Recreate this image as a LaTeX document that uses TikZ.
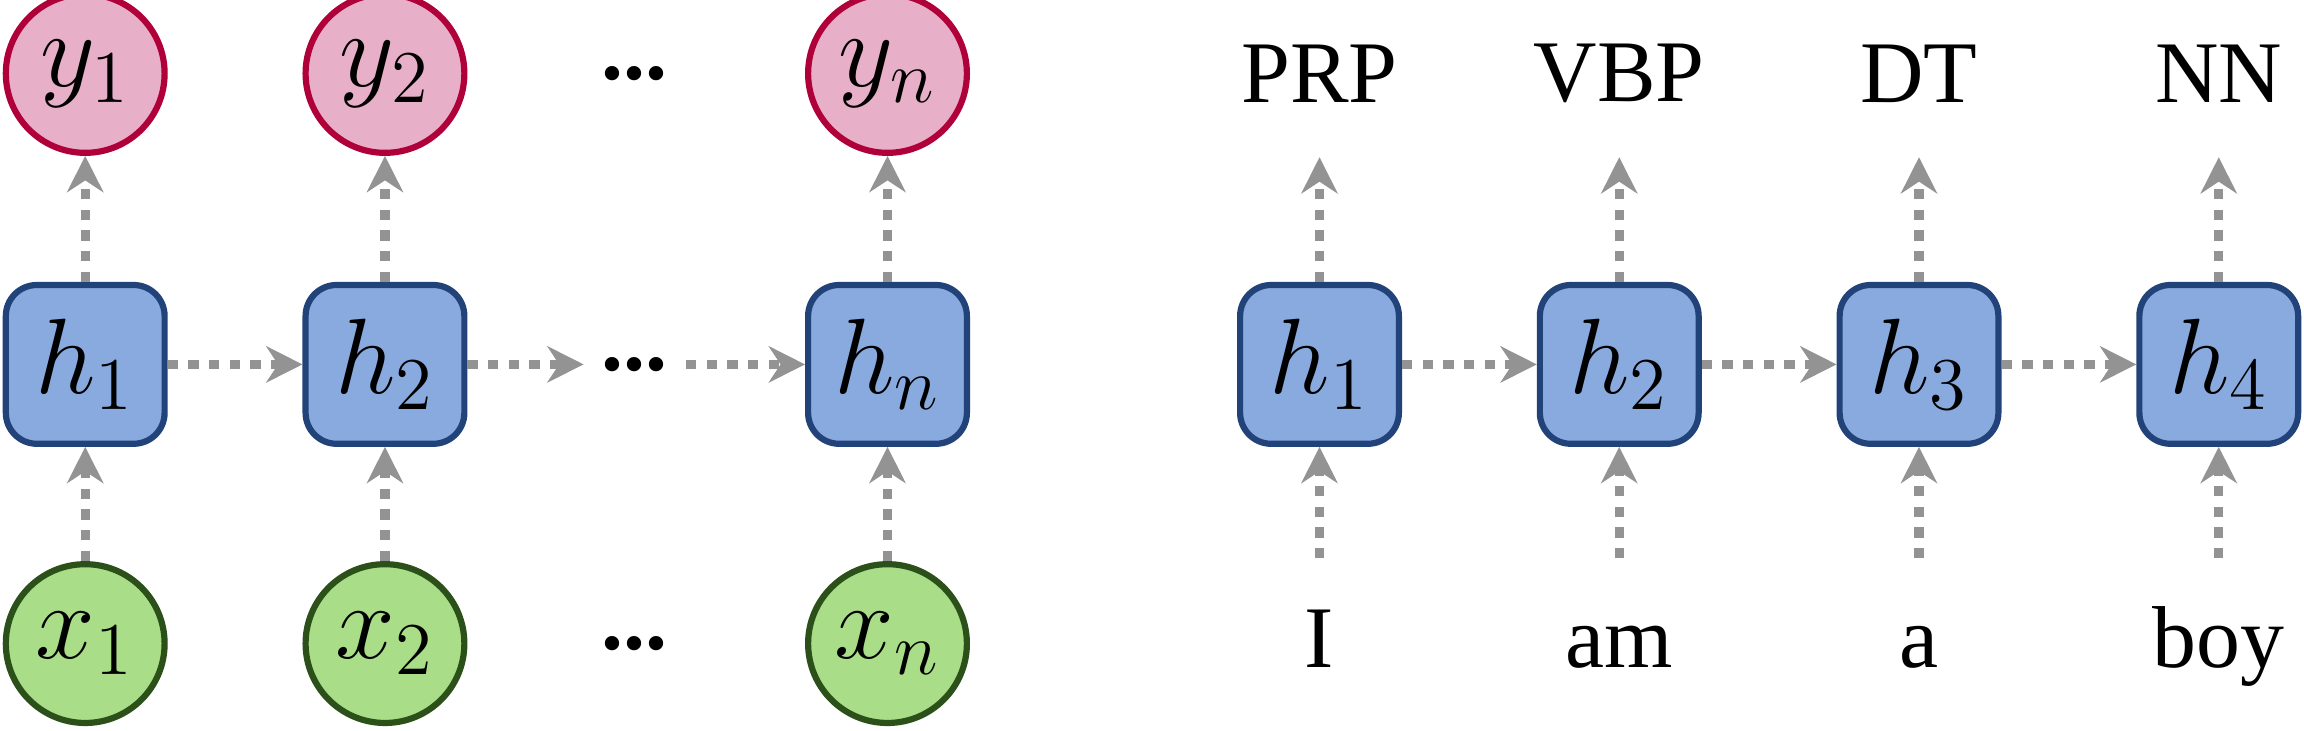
\documentclass[tikz,border=0pt]{standalone}
\usepackage{fontspec}
\setmainfont{Liberation Serif}
\usetikzlibrary{arrows.meta}
\definecolor{outfill}{HTML}{E8B0C8}
\definecolor{outline}{HTML}{B0003A}
\definecolor{hidfill}{HTML}{88AADF}
\definecolor{hidline}{HTML}{22427A}
\definecolor{infill}{HTML}{A9DD88}
\definecolor{inline}{HTML}{2B5019}

\begin{document}
\begin{tikzpicture}
[x=0.01cm,y=0.01cm,
 outc/.style={circle,draw=outline,fill=outfill,line width=1.2pt,minimum size=1.08cm,inner sep=0pt,font=\fontsize{22}{24}\selectfont},
 inc/.style={circle,draw=inline,fill=infill,line width=1.2pt,minimum size=1.08cm,inner sep=0pt,font=\fontsize{22}{24}\selectfont},
 hid/.style={rectangle,rounded corners=6pt,draw=hidline,fill=hidfill,line width=1.2pt,minimum size=1.08cm,inner sep=0pt,font=\fontsize{22}{24}\selectfont},
 word/.style={font=\fontsize{17}{20}\selectfont},
 dots/.style={font=\fontsize{17}{20}\bfseries\selectfont},
 flow/.style={gray!85,line width=1.8pt,dash pattern=on 2pt off 2pt,-{Stealth[length=7pt,width=7pt]}}]
\useasboundingbox (0,0) rectangle (1568,497);
% left: unrolled network
\foreach \i/\px/\s in {1/58/1,2/262/2,n/604/n}{
\node[outc] (y\i) at (\px,447) {$y_\s$};
\node[hid] (h\i) at (\px,249) {$h_\s$};
\node[inc] (x\i) at (\px,59) {$x_\s$};
\draw[flow] (h\i) -- (y\i);
\draw[flow] (x\i) -- (h\i);
}
\node[dots] (dy) at (432,447) {...};
\node[dots] (dh) at (432,249) {...};
\node[dots] (dx) at (432,59) {...};
\draw[flow] (h1) -- (h2);
\draw[flow] (h2) -- (dh);
\draw[flow] (dh) -- (hn);
% right: tagging example
\foreach \i/\px/\t/\w in {1/898/PRP/I,2/1102/VBP/am,3/1306/DT/a,4/1510/NN/boy}{
\node[hid] (g\i) at (\px,249) {$h_\i$};
\node[word] (t\i) at (\px,447) {\t};
\node[word,text height=12pt,text depth=4pt] (w\i) at (\px,57) {\w};
\coordinate (ta\i) at (\px,390);
\coordinate (wa\i) at (\px,117);
\draw[flow] (g\i) -- (ta\i);
\draw[flow] (wa\i) -- (g\i);
}
\foreach \a/\b in {1/2,2/3,3/4}{
\draw[flow] (g\a) -- (g\b);
}
\end{tikzpicture}
\end{document}
